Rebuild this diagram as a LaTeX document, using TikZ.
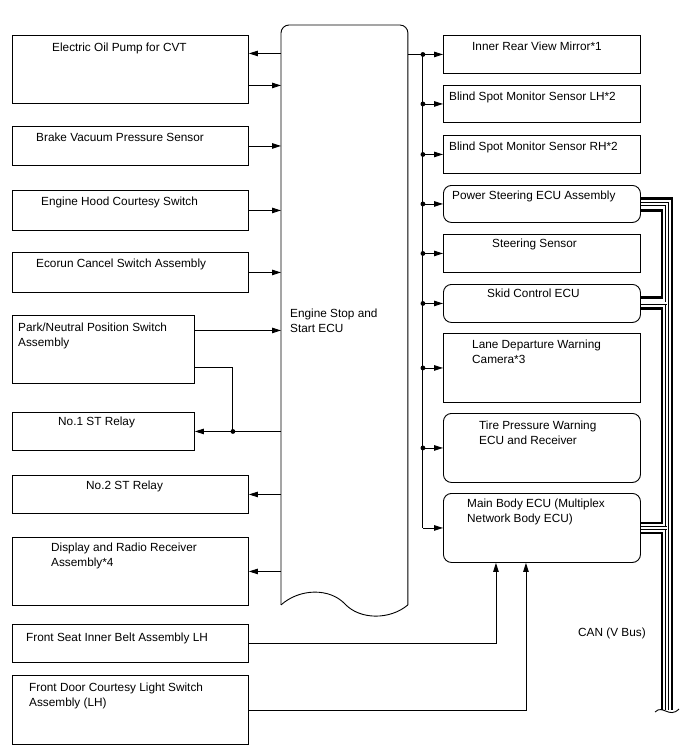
\documentclass[tikz,border=0pt]{standalone}
\usepackage{fontspec}
\setmainfont{Liberation Sans}
\usetikzlibrary{positioning,arrows.meta}

\begin{document}
\begin{tikzpicture}[
    x=1pt, y=-1pt,
    >={Triangle[length=9pt,width=5.5pt]},
    part/.style={
        draw,
        line width=0.9pt,
        inner sep=0pt,
        anchor=north west
    },
    roundpart/.style={
        part,
        rounded corners=8pt
    },
    partname/.style={
        anchor=north west,
        inner sep=0pt,
        align=left,
        font=\fontsize{11.8}{14.5}\selectfont
    },
    arrow/.style={->, line width=0.9pt},
    wire/.style={line width=0.9pt},
    can thick/.style={line width=2.8pt},
    can pair/.style={double, double distance=2pt, line width=0.7pt},
    junction/.style={circle, fill, inner sep=0pt, minimum size=4.8pt}
]

\useasboundingbox (0,0) rectangle (688,755);

% ENGINE STOP AND START ECU
\node[part, draw=none, minimum width=126pt, minimum height=579pt] (ecu) at (281,25) {};
\draw[wire, rounded corners=8pt] (ecu.south west) -- (ecu.north west) -- (ecu.north east) -- (ecu.south east);
\draw[wire] (ecu.south west) .. controls (300,588) and (330,588) .. (345,604)
    .. controls (360,620) and (390,620) .. (ecu.south east);
\node[partname] (ecutxt) at (290,309) {Engine Stop and\\Start ECU};

% LEFT SIDE
\node[part, minimum width=236pt, minimum height=68pt] (pump) at (12,35) {};
\node[partname] (pumptxt) at (52,42.5) {Electric Oil Pump for CVT};

\node[part, minimum width=236pt, minimum height=39pt] (brake) at (12,126) {};
\node[partname] (braketxt) at (36,133) {Brake Vacuum Pressure Sensor};

\node[part, minimum width=236pt, minimum height=40pt] (hood) at (12,190) {};
\node[partname] (hoodtxt) at (41,197) {Engine Hood Courtesy Switch};

\node[part, minimum width=236pt, minimum height=40pt] (ecorun) at (12,252) {};
\node[partname] (ecoruntxt) at (36,259) {Ecorun Cancel Switch Assembly};

\node[part, minimum width=182pt, minimum height=68pt] (pns) at (12,315) {};
\node[partname] (pnstxt) at (18,323) {Park/Neutral Position Switch\\Assembly};

\node[part, minimum width=182pt, minimum height=38pt] (st1) at (12,412) {};
\node[partname] (st1txt) at (58,417) {No.1 ST Relay};

\node[part, minimum width=236pt, minimum height=38pt] (st2) at (12,475) {};
\node[partname] (st2txt) at (86,481) {No.2 ST Relay};

\node[part, minimum width=236pt, minimum height=68pt] (disp) at (12,537) {};
\node[partname] (disptxt) at (51,543) {Display and Radio Receiver\\Assembly*4};

\node[part, minimum width=236pt, minimum height=38pt] (belt) at (12,624) {};
\node[partname] (belttxt) at (26,633) {Front Seat Inner Belt Assembly LH};

\node[part, minimum width=236pt, minimum height=69pt] (door) at (12,675) {};
\node[partname] (doortxt) at (29,683) {Front Door Courtesy Light Switch\\Assembly (LH)};

% RIGHT SIDE
\node[part, minimum width=197pt, minimum height=38pt] (mirror) at (443,35) {};
\node[partname] (mirrortxt) at (472,42) {Inner Rear View Mirror*1};

\node[part, minimum width=197pt, minimum height=37pt] (bsmlh) at (443,85) {};
\node[partname] (bsmlhtxt) at (449,92) {Blind Spot Monitor Sensor LH*2};

\node[part, minimum width=197pt, minimum height=38pt] (bsmrh) at (443,135) {};
\node[partname] (bsmrhtxt) at (449,142) {Blind Spot Monitor Sensor RH*2};

\node[roundpart, minimum width=197pt, minimum height=37pt] (eps) at (443,185) {};
\node[partname] (epstxt) at (452,191) {Power Steering ECU Assembly};

\node[part, minimum width=197pt, minimum height=38pt] (strg) at (443,234) {};
\node[partname] (strgtxt) at (492,239) {Steering Sensor};

\node[roundpart, minimum width=197pt, minimum height=38pt] (skid) at (443,284) {};
\node[partname] (skidtxt) at (487,289) {Skid Control ECU};

\node[part, minimum width=197pt, minimum height=69pt] (ldw) at (443,333) {};
\node[partname] (ldwtxt) at (472,340) {Lane Departure Warning\\Camera*3};

\node[roundpart, minimum width=197pt, minimum height=69pt] (tpms) at (443,413) {};
\node[partname] (tpmstxt) at (479,421) {Tire Pressure Warning\\ECU and Receiver};

\node[roundpart, minimum width=197pt, minimum height=69pt] (mbody) at (443,493) {};
\node[partname] (mbodytxt) at (467,499) {Main Body ECU (Multiplex\\Network Body ECU)};

% LEFT LINKS
\coordinate (pumpout) at ([yshift=16pt]pump.east);
\coordinate (pumpin) at ([yshift=-16pt]pump.east);
\draw[arrow] (ecu.west |- pumpout) -- (pumpout);
\draw[arrow] (pumpin) -- (ecu.west |- pumpin);

\foreach \src in {brake,hood,ecorun}
    \draw[arrow] (\src.east) -- (ecu.west |- \src.east);

\coordinate (pnsin) at ([yshift=19pt]pns.east);
\coordinate (pnsout) at ([yshift=-18pt]pns.east);
\coordinate (split) at ([xshift=38pt]pns.east);
\draw[arrow] (pnsin) -- (ecu.west |- pnsin);
\draw[arrow] (ecu.west |- st1.east) -- (st1.east);
\draw[wire] (pnsout) -| (split |- st1.east);
\node[junction] (dot-st1) at (split |- st1.east) {};

\foreach \dst in {st2,disp}
    \draw[arrow] (ecu.west |- \dst.east) -- (\dst.east);

% RIGHT LINKS
\coordinate (tap) at ([xshift=15pt]ecu.east);
\draw[wire] (ecu.east |- mirror.west) -- (tap |- mirror.west) -- (tap |- mbody.west);
\foreach \dst in {mirror,bsmlh,bsmrh,eps,strg,skid,ldw,tpms,mbody}
    \draw[arrow] (tap |- \dst.west) -- (\dst.west);
\foreach \dst in {mirror,bsmlh,bsmrh,eps,strg,skid,ldw,tpms}
    \node[junction] (dot-\dst) at (tap |- \dst.west) {};

\draw[arrow] (belt.east) -| ([xshift=-46pt]mbody.south);
\draw[arrow] (door.east) -| ([xshift=-16pt]mbody.south);

% CAN BUS
\coordinate (can outer) at (672,710);
\coordinate (can mid) at (667,710);
\coordinate (can inner) at (662,710);
\coordinate (epsa) at ([yshift=5.5pt]eps.east);
\coordinate (epsb) at ([yshift=-6.5pt]eps.east);
\coordinate (skida) at ([yshift=6pt]skid.east);
\coordinate (skidb) at ([yshift=-5pt]skid.east);
\coordinate (mbodya) at ([yshift=5pt]mbody.east);
\coordinate (mbodyb) at ([yshift=-5pt]mbody.east);

\draw[can thick] (epsa) -| (can outer);
\draw[can pair] (eps.east) -| (can mid);
\draw[can pair] (skid.east) -- (can mid |- skid.east);
\draw[can pair] (mbody.east) -- (can mid |- mbody.east);
\draw[can thick] (epsb) -- (can inner |- epsb) -- (can inner |- skida) -- (skida);
\draw[can thick] (skidb) -- (can inner |- skidb) -- (can inner |- mbodya) -- (mbodya);
\draw[can thick] (mbodyb) -| (can inner);
\draw[wire] (655,712) .. controls (663,704) and (669,719) .. (679,709);

\node[partname] (cantxt) at (578,628) {CAN (V Bus)};

\end{tikzpicture}
\end{document}
